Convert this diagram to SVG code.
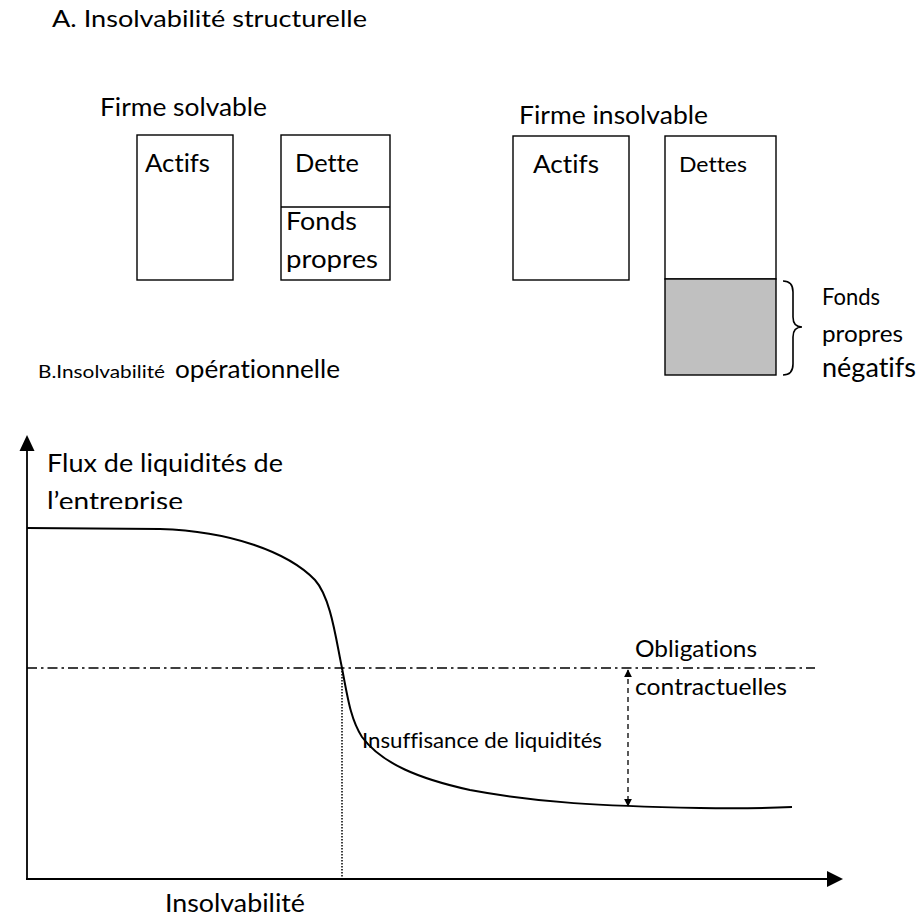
<svg xmlns="http://www.w3.org/2000/svg" width="917" height="922" viewBox="0 0 917 922">
  <style>
    text { font-family: Lato, "Open Sans", "Liberation Sans", sans-serif; fill: #000; font-variant-ligatures: none; font-feature-settings: "liga" 0, "clig" 0; }
    .lg { font-size: 25px; }
    .md { font-size: 22px; }
    .sm { font-size: 18px; }
    .box { fill: #fff; stroke: #000; stroke-width: 1.4; }
    .neg { fill: #c0c0c0; stroke: #000; stroke-width: 1.4; }
    .axis { fill: none; stroke: #000; stroke-width: 1.8; }
    .curve { fill: none; stroke: #000; stroke-width: 2; }
  </style>
  <defs>
    <marker id="tipSmall" viewBox="0 0 10 10" refX="9" refY="5" markerWidth="8" markerHeight="8" markerUnits="userSpaceOnUse" orient="auto-start-reverse">
      <path d="M0,0 L10,5 L0,10 Z" fill="#000"/>
    </marker>
    <clipPath id="labelClip">
      <rect x="0" y="440" width="400" height="69"/>
    </clipPath>
  </defs>
  <rect width="917" height="922" fill="#fff"/>

  <!-- Part A: balance-sheet view -->
  <text id="title-a" class="lg" x="52" y="27" style="font-size:23.5px" textLength="315" lengthAdjust="spacingAndGlyphs">A. Insolvabilité structurelle</text>

  <g id="firme-solvable">
    <text class="lg" x="100" y="116" textLength="167" lengthAdjust="spacingAndGlyphs">Firme solvable</text>
    <g id="actifs-solvable">
      <rect class="box" x="137" y="135" width="96" height="145"/>
      <text class="lg" x="145" y="172" textLength="65" lengthAdjust="spacingAndGlyphs">Actifs</text>
    </g>
    <g id="passif-solvable">
      <rect class="box" x="281" y="135" width="109" height="145"/>
      <line x1="281" y1="207" x2="390" y2="207" stroke="#000" stroke-width="1.4"/>
      <text class="lg" x="295" y="172" textLength="64" lengthAdjust="spacingAndGlyphs">Dette</text>
      <text class="lg" x="286" y="230" textLength="71" lengthAdjust="spacingAndGlyphs">Fonds</text>
      <text class="lg" x="286" y="268" textLength="92" lengthAdjust="spacingAndGlyphs">propres</text>
    </g>
  </g>

  <g id="firme-insolvable">
    <text class="lg" x="519" y="124" textLength="189" lengthAdjust="spacingAndGlyphs">Firme insolvable</text>
    <g id="actifs-insolvable">
      <rect class="box" x="513" y="136" width="116" height="144"/>
      <text class="lg" x="533" y="173" textLength="66" lengthAdjust="spacingAndGlyphs">Actifs</text>
    </g>
    <g id="passif-insolvable">
      <rect class="box" x="665" y="136" width="111" height="143"/>
      <rect class="neg" x="665" y="279" width="111" height="96"/>
      <text class="md" x="679" y="172" style="font-size:21px" textLength="68" lengthAdjust="spacingAndGlyphs">Dettes</text>
    </g>
    <g id="fonds-negatifs">
      <path d="M783,281 Q793,281 793,292 L793,317 Q793,327 802,327 Q793,327 793,337 L793,364 Q793,375 783,375" fill="none" stroke="#000" stroke-width="1.6"/>
      <text class="md" x="822" y="305" style="font-size:23px" textLength="58" lengthAdjust="spacingAndGlyphs">Fonds</text>
      <text class="md" x="822" y="342" style="font-size:23px" textLength="81" lengthAdjust="spacingAndGlyphs">propres</text>
      <text class="lg" x="822" y="377" style="font-size:26px" textLength="94" lengthAdjust="spacingAndGlyphs">négatifs</text>
    </g>
  </g>

  <!-- Part B: cash-flow view -->
  <g id="title-b">
    <text class="sm" x="38" y="378" textLength="127" lengthAdjust="spacingAndGlyphs">B.Insolvabilité</text>
    <text class="lg" x="175" y="378" textLength="165" lengthAdjust="spacingAndGlyphs">opérationnelle</text>
  </g>

  <g id="connectors">
    <!-- axes -->
    <line class="axis" x1="27" y1="448" x2="27" y2="879"/>
    <path d="M27,435 L19.5,451 L34.5,451 Z" fill="#000"/>
    <line class="axis" x1="26" y1="879" x2="830" y2="879"/>
    <path d="M843,879 L827,871 L827,887 Z" fill="#000"/>
    <!-- contractual obligations level -->
    <line x1="27" y1="668" x2="815" y2="668" stroke="#000" stroke-width="1.5" stroke-dasharray="10 4 2.5 4"/>
    <!-- insolvency point -->
    <line x1="342" y1="668" x2="342" y2="878" stroke="#000" stroke-width="1.5" stroke-dasharray="1.5 1.5"/>
    <!-- liquidity shortfall -->
    <line x1="628" y1="670" x2="628" y2="806" stroke="#000" stroke-width="1.3" stroke-dasharray="5 4" marker-start="url(#tipSmall)" marker-end="url(#tipSmall)"/>
    <!-- firm cash-flow curve -->
    <path class="curve" d="M27,528 L160,529 C230,531 288,552 315,580 C331,598 336,640 342,668 C348,700 351,720 362,737 C382,764 420,779 470,790 C540,803 600,806 700,808 C740,808.5 770,808 792,807"/>
  </g>

  <g id="label-flux">
    <text class="lg" x="47" y="472" textLength="236" lengthAdjust="spacingAndGlyphs">Flux de liquidités de</text>
    <text class="lg" x="47" y="510" clip-path="url(#labelClip)" textLength="136" lengthAdjust="spacingAndGlyphs">l’entreprise</text>
  </g>
  <g id="label-obligations">
    <text class="lg" x="635" y="657" style="font-size:24px" textLength="122" lengthAdjust="spacingAndGlyphs">Obligations</text>
    <text class="lg" x="635" y="695" style="font-size:24px" textLength="152" lengthAdjust="spacingAndGlyphs">contractuelles</text>
  </g>
  <g id="label-insuffisance">
    <text class="md" x="362" y="748" style="font-size:21.5px" textLength="240" lengthAdjust="spacingAndGlyphs">Insuffisance de liquidités</text>
  </g>
  <g id="label-insolvabilite">
    <text class="lg" x="165" y="912" textLength="140" lengthAdjust="spacingAndGlyphs">Insolvabilité</text>
  </g>
</svg>
